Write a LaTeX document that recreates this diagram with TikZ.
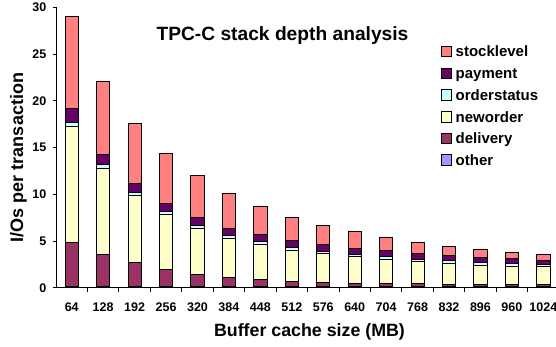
\documentclass[tikz,border=0pt]{standalone}
\usepackage{fontspec}
\setmainfont{Liberation Sans}
\definecolor{cstock}{HTML}{FF8080}
\definecolor{cpay}{HTML}{660066}
\definecolor{cos}{HTML}{CCFFFF}
\definecolor{cnew}{HTML}{FFFFCC}
\definecolor{cdel}{HTML}{993366}
\definecolor{cother}{HTML}{9999FF}
\begin{document}
\begin{tikzpicture}[x=1pt,y=-1pt,
  seg/.style={draw=black,line width=0.8pt},
  axisline/.style={draw=black,line width=0.8pt},
  ticklab/.style={font=\fontsize{12.5}{12.5}\selectfont\bfseries,inner sep=0pt},
  legtxt/.style={font=\fontsize{15}{15}\selectfont\bfseries,inner sep=0pt,anchor=base west},
  legbox/.style={draw=black,line width=0.8pt,minimum width=10.5pt,minimum height=10.5pt,inner sep=0pt}]
\useasboundingbox (0,0) rectangle (556,347);
% bars
\foreach \lab/\vd/\vn/\vo/\vp/\vt [count=\ci from 0] in {
 64/4.86/17.3/17.7/19.2/29.1,
 128/3.57/12.75/13.2/14.3/22.1,
 192/2.68/9.85/10.2/11.2/17.6,
 256/2.0/7.86/8.18/9.03/14.35,
 320/1.43/6.36/6.7/7.5/12.0,
 384/1.07/5.32/5.64/6.39/10.1,
 448/0.86/4.64/4.97/5.67/8.75,
 512/0.68/4.04/4.32/5.1/7.57,
 576/0.57/3.64/3.93/4.65/6.71,
 640/0.5/3.32/3.57/4.25/6.04,
 704/0.47/3.04/3.32/4.0/5.4,
 768/0.43/2.83/3.07/3.71/4.86,
 832/0.4/2.61/2.89/3.47/4.43,
 896/0.37/2.43/2.72/3.25/4.11,
 960/0.35/2.32/2.57/3.1/3.79,
 1024/0.33/2.25/2.5/2.97/3.57}{
 \pgfmathsetmacro\xc{56+31.44*(\ci+0.5)}
 \pgfmathsetmacro\xl{\xc-6.65}
 \pgfmathsetmacro\xr{\xc+6.65}
 \pgfmathsetmacro\ya{287.7-9.34*0.12}
 \pgfmathsetmacro\yd{287.7-9.34*\vd}
 \pgfmathsetmacro\yn{287.7-9.34*\vn}
 \pgfmathsetmacro\yo{287.7-9.34*\vo}
 \pgfmathsetmacro\yp{287.7-9.34*\vp}
 \pgfmathsetmacro\yt{287.7-9.34*\vt}
 \filldraw[seg,fill=cother] (\xl,287.7) rectangle (\xr,\ya);
 \filldraw[seg,fill=cdel] (\xl,\ya) rectangle (\xr,\yd);
 \filldraw[seg,fill=cnew] (\xl,\yd) rectangle (\xr,\yn);
 \filldraw[seg,fill=cos] (\xl,\yn) rectangle (\xr,\yo);
 \filldraw[seg,fill=cpay] (\xl,\yo) rectangle (\xr,\yp);
 \filldraw[seg,fill=cstock] (\xl,\yp) rectangle (\xr,\yt);
 \node[ticklab,anchor=base] (xt\ci) at (\xc,311) {\lab};
}
% axes
\draw[axisline] (56,7.5) -- (56,287.7) -- (556,287.7);
\foreach \v in {0,5,...,30}{
 \pgfmathsetmacro\yy{287.7-9.34*\v}
 \draw[axisline] (52.5,\yy) -- (56,\yy);
 \node[ticklab,anchor=east] (yt\v) at (46.5,\yy) {\v};
}
\foreach \k in {1,...,15}{
 \pgfmathsetmacro\xx{56+31.44*\k}
 \draw[axisline] (\xx,287.7) -- (\xx,292);
}
% titles
\node[font=\fontsize{19.2}{19.2}\selectfont\bfseries,inner sep=0pt,anchor=base] (title) at (282.5,41) {TPC-C stack depth analysis};
\node[font=\fontsize{17.8}{17.8}\selectfont\bfseries,inner sep=0pt,anchor=base] (xtitle) at (309.5,336.5) {Buffer cache size (MB)};
\node[font=\fontsize{18}{18}\selectfont\bfseries,inner sep=0pt,anchor=base,rotate=90] (ytitle) at (23,157.5) {I/Os per transaction};
% legend
\foreach \nm/\col/\yy in {stocklevel/cstock/51.5, payment/cpay/73.3, orderstatus/cos/95, neworder/cnew/116.7, delivery/cdel/138.3, other/cother/159.8}{
 \node[legbox,fill=\col] (lb\nm) at (446.5,\yy) {};
 \node[legtxt] (lt\nm) at (455.5,\yy+5.5) {\nm};
}
\end{tikzpicture}
\end{document}
